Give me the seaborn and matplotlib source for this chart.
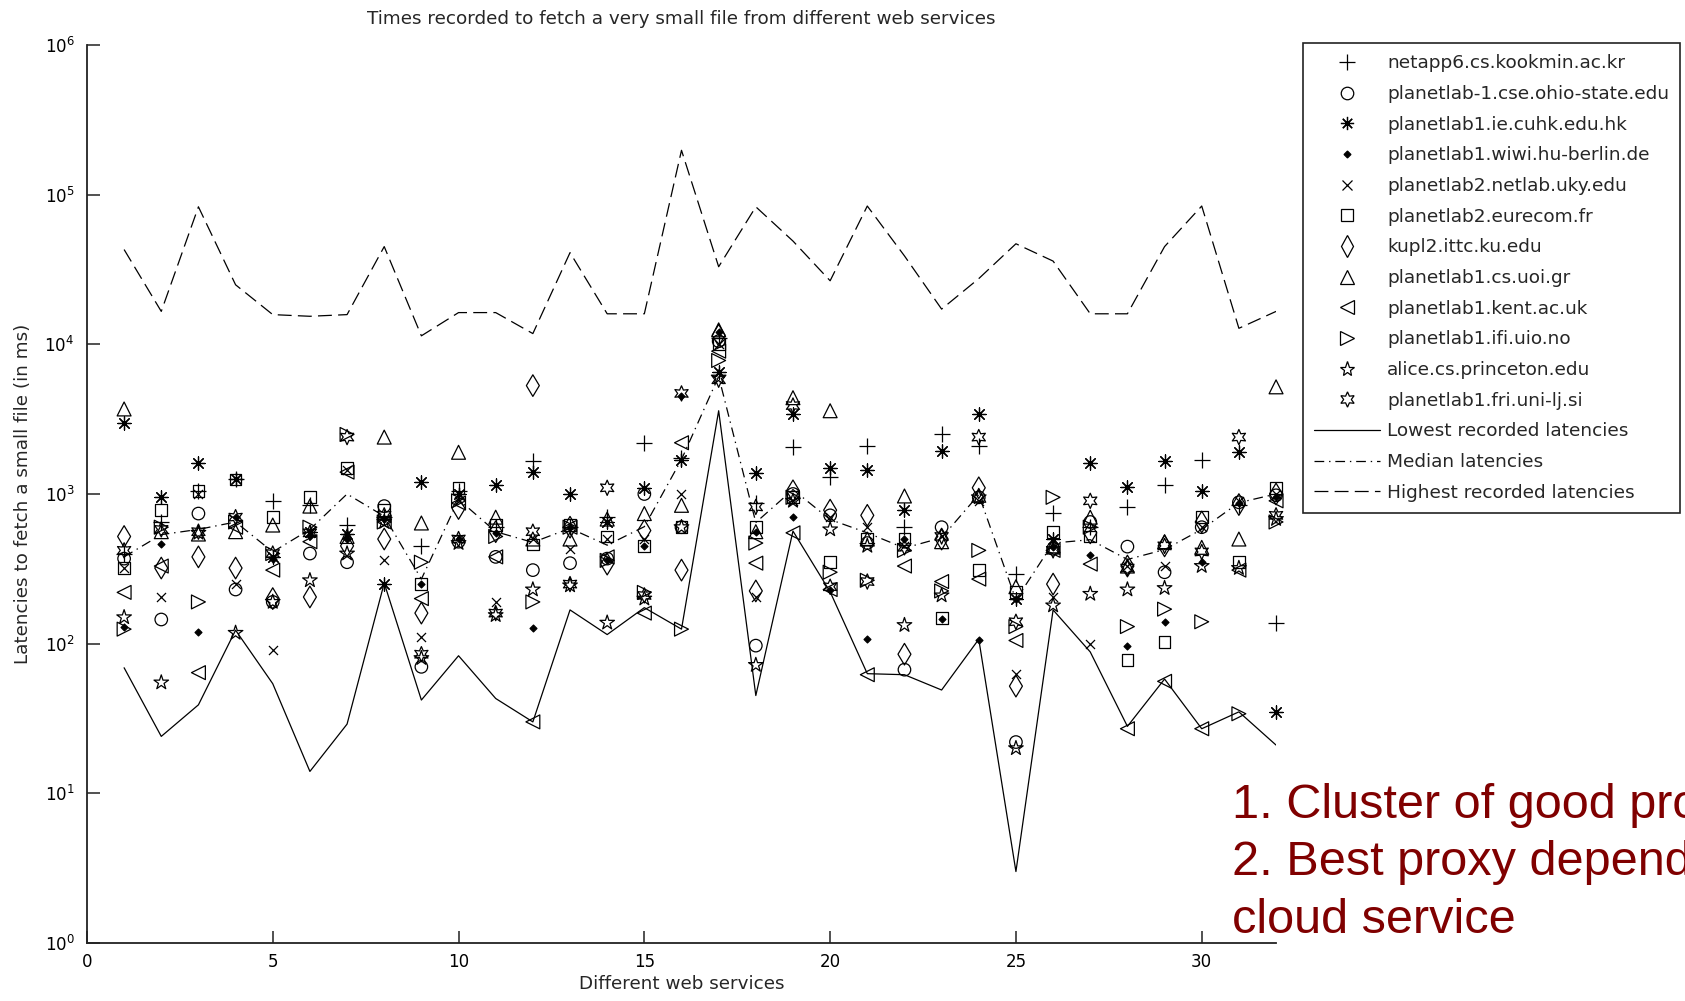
import matplotlib
matplotlib.use('Agg')
import matplotlib.pyplot as plt
from matplotlib.lines import Line2D
import seaborn as sns

# web services on the x axis
services = list(range(1, 33))

# latencies (ms) per proxy
kookmin = [400, 650, 1050, 1250, 900, 850, 620, 700, 450, 1050, 600, 1650, 600, 700, 2200, 1750,
           11000, 870, 2050, 1300, 2100, 600, 2500, 2100, 290, 750, 600, 820, 1150, 1700, 850, 138]
ohio = [370, 145, 740, 230, 190, 400, 350, 830, 70, 480, 380, 310, 345, 370, 1000, 600,
        10500, 97, 1000, 720, 470, 67, 600, 950, 22, 430, 650, 445, 300, 600, 880, 980]
cuhk = [3000, 950, 1600, 1250, 380, 560, 540, 250, 1200, 1000, 1150, 1400, 1000, 650, 1100, 1700,
        6500, 1380, 3400, 1500, 1450, 780, 1950, 3400, 200, 500, 1600, 1120, 1650, 1040, 1900, 35]
berlin = [130, 460, 120, 700, 370, 520, 500, 680, 250, 500, 550, 128, 600, 360, 450, 4500,
          12000, 560, 700, 230, 108, 500, 145, 105, 200, 440, 390, 96, 140, 350, 870, 950]
uky = [320, 205, 1000, 250, 90, 550, 1450, 360, 110, 900, 190, 500, 430, 500, 500, 1000,
       10000, 205, 900, 700, 600, 450, 520, 900, 63, 205, 100, 330, 330, 600, 900, 1000]
eurecom = [320, 780, 1050, 1250, 700, 950, 1500, 780, 250, 1100, 620, 460, 620, 520, 450, 600,
           10000, 600, 950, 350, 500, 500, 148, 310, 220, 560, 520, 78, 103, 700, 350, 1100]
kupl2 = [520, 320, 380, 320, 200, 205, 450, 500, 160, 800, 560, 5300, 600, 340, 570, 310,
         11500, 225, 1050, 780, 720, 85, 500, 1100, 52, 250, 550, 330, 450, 650, 850, 1000]
uoi = [3700, 560, 540, 560, 620, 830, 520, 2400, 640, 1900, 700, 500, 500, 680, 740, 840,
       12500, 560, 4400, 3600, 500, 970, 480, 980, 240, 450, 700, 330, 480, 440, 500, 5200]
kent = [220, 330, 64, 600, 310, 480, 1400, 650, 200, 870, 380, 30, 600, 380, 160, 2200,
        9000, 345, 550, 230, 62, 330, 260, 270, 105, 420, 340, 27, 56, 27, 310, 900]
ifi = [125, 600, 190, 650, 400, 600, 2500, 650, 350, 900, 520, 190, 600, 360, 220, 125,
       7800, 470, 950, 300, 265, 420, 225, 420, 130, 950, 600, 130, 170, 140, 34, 650]
princeton = [150, 55, 550, 118, 190, 265, 400, 650, 80, 470, 155, 230, 245, 138, 200, 600,
             6000, 72, 900, 580, 450, 133, 210, 950, 20, 180, 215, 230, 235, 330, 320, 680]
fri = [420, 580, 560, 700, 400, 550, 2400, 720, 85, 500, 160, 560, 250, 1100, 210, 4700,
       5800, 820, 3900, 240, 260, 440, 520, 2400, 140, 420, 900, 320, 450, 410, 2400, 720]

lowest = [69, 24, 39, 123, 54, 14, 29, 254, 42, 83, 43, 30, 168, 115, 174, 125,
          3600, 45, 565, 222, 63, 62, 49, 107, 3, 168, 88, 28, 58, 27, 35, 21]
median = [380, 535, 580, 650, 410, 580, 1000, 710, 270, 920, 560, 475, 590, 455, 605, 1700,
          6100, 645, 1070, 675, 550, 435, 510, 990, 196, 470, 495, 365, 425, 580, 875, 1000]
highest = [43000, 16600, 83000, 25000, 15800, 15400, 15800, 45000, 11400, 16300, 16300, 11800,
           41000, 16000, 16000, 198000, 33000, 83000, 49000, 26600, 84000, 39000, 17200, 27500,
           47000, 36000, 16000, 16000, 45000, 84000, 12800, 16600]

proxy_names = ['netapp6.cs.kookmin.ac.kr', 'planetlab-1.cse.ohio-state.edu', 'planetlab1.ie.cuhk.edu.hk',
               'planetlab1.wiwi.hu-berlin.de', 'planetlab2.netlab.uky.edu', 'planetlab2.eurecom.fr',
               'kupl2.ittc.ku.edu', 'planetlab1.cs.uoi.gr', 'planetlab1.kent.ac.uk',
               'planetlab1.ifi.uio.no', 'alice.cs.princeton.edu', 'planetlab1.fri.uni-lj.si']
proxy_values = [kookmin, ohio, cuhk, berlin, uky, eurecom, kupl2, uoi, kent, ifi, princeton, fri]

# marker, size (pt), hollow?
marker_styles = [('+', 11, False), ('o', 9, True), ((8, 2, 0), 9.5, False), ('D', 3.5, False),
                 ('x', 6.5, False), ('s', 8.5, True), ('d', 11, True), ('^', 10, True),
                 ('<', 10, True), ('>', 10, True), ('*', 11, True), ((6, 1, 0), 11, True)]

sns.set_style('white')
plt.rcParams['font.family'] = ['DejaVu Sans']
plt.rcParams['lines.scale_dashes'] = False

fig = plt.figure(figsize=(16.85, 10.01), dpi=100)
ax = fig.add_axes([0.0516, 0.058, 0.7057, 0.897])

for vals, (m, ms, hollow) in zip(proxy_values, marker_styles):
    if hollow:
        sns.scatterplot(x=services, y=vals, marker=m, s=ms ** 2, facecolor='none',
                        edgecolor='k', linewidth=0.9, ax=ax, zorder=3, clip_on=False)
    else:
        sns.scatterplot(x=services, y=vals, marker=m, s=ms ** 2, color='k',
                        edgecolor=None, linewidth=0.9, ax=ax, zorder=3, clip_on=False)

sns.lineplot(x=services, y=lowest, color='k', lw=0.9, errorbar=None, ax=ax)
sns.lineplot(x=services, y=median, color='k', lw=0.9, errorbar=None, ax=ax,
             linestyle=(0, (7, 3.5, 1, 3.5)))
sns.lineplot(x=services, y=highest, color='k', lw=0.9, errorbar=None, ax=ax,
             linestyle=(0, (10, 4.5)))

ax.set_yscale('log')
ax.set_ylim(1, 1e6)
ax.set_xlim(0, 32)
ax.set_xticks([0, 5, 10, 15, 20, 25, 30])
for s in ['top', 'right']:
    ax.spines[s].set_visible(False)
for s in ['left', 'bottom']:
    ax.spines[s].set_color('#222222')
    ax.spines[s].set_linewidth(1.3)
ax.tick_params(axis='both', which='major', direction='in', length=9, width=1.1,
               labelsize=12, colors='#222222', labelcolor='black')
ax.tick_params(axis='y', which='minor', direction='in', length=4.5, width=1.0, colors='#222222')
ax.tick_params(axis='y', which='major', pad=9, left=True)
ax.tick_params(axis='x', which='major', pad=7, bottom=True)

ax.set_title('Times recorded to fetch a very small file from different web services',
             fontsize=13.2, y=1.029, pad=0, va='center')
ax.set_xlabel('Different web services', fontsize=13.2)
ax.xaxis.set_label_coords(0.5, -0.036)
ax.set_ylabel('Latencies to fetch a small file (in ms)', fontsize=13.2)
ax.yaxis.set_label_coords(-0.046, 0.5)

handles = []
for m, ms, hollow in marker_styles:
    handles.append(Line2D([], [], linestyle='none', marker=m, markersize=ms, color='k',
                          markerfacecolor='none' if hollow else 'k', markeredgewidth=0.9))
handles.append(Line2D([], [], color='k', lw=0.9))
handles.append(Line2D([], [], color='k', lw=0.9, linestyle=(0, (7, 3.5, 1, 3.5))))
handles.append(Line2D([], [], color='k', lw=0.9, linestyle=(0, (10, 4.5))))
labels = proxy_names + ['Lowest recorded latencies', 'Median latencies', 'Highest recorded latencies']

leg = fig.legend(handles, labels, loc='upper left', bbox_to_anchor=(0.773, 0.957),
                 fontsize=13.3, frameon=True, fancybox=False, framealpha=1,
                 edgecolor='#222222', handlelength=3.6, handletextpad=0.35,
                 labelspacing=0.685, borderpad=0.62, borderaxespad=0)
leg.get_frame().set_linewidth(1.2)

note_color = '#800000'
fig.text(0.731, 1 - 818 / 1001, '1. Cluster of good proxies', color=note_color,
         fontsize=35, family='Liberation Sans', va='baseline')
fig.text(0.731, 1 - 875 / 1001, '2. Best proxy depends on the', color=note_color,
         fontsize=35, family='Liberation Sans', va='baseline')
fig.text(0.731, 1 - 933 / 1001, 'cloud service', color=note_color,
         fontsize=35, family='Liberation Sans', va='baseline')

fig.savefig('out.png', dpi=100)
